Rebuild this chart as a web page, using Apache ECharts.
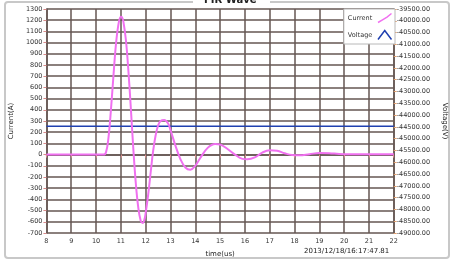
<!DOCTYPE html>
<html><head><meta charset="utf-8">
<script src="https://cdn.jsdelivr.net/npm/echarts@6/dist/echarts.min.js"></script>
<style>html,body{margin:0;padding:0;background:#fff}#c{width:456px;height:264px}</style>
</head><body><div id="c"></div>
<script>
var timeUs = [8, 9, 10, 10.3, 10.4, 10.5, 10.6, 10.7, 10.8, 10.9, 11.0, 11.05, 11.1, 11.2, 11.3, 11.4, 11.5, 11.6, 11.7, 11.8, 11.88, 11.95, 12.0, 12.1, 12.2, 12.3, 12.4, 12.5, 12.6, 12.75, 12.9, 13.0, 13.2, 13.4, 13.6, 13.8, 14.0, 14.2, 14.5, 14.8, 15.0, 15.3, 15.6, 15.9, 16.1, 16.4, 16.7, 17.0, 17.3, 17.6, 17.9, 18.2, 18.6, 19.0, 19.4, 19.8, 20.2, 21, 22];
var currentA = [0, 0, 0, 0, 20, 150, 400, 700, 980, 1160, 1230, 1225, 1190, 1030, 760, 420, 60, -250, -470, -590, -610, -580, -520, -360, -160, 30, 170, 260, 300, 310, 280, 220, 80, -40, -115, -135, -100, -30, 60, 95, 90, 50, 0, -38, -42, -25, 18, 38, 34, 12, -4, -6, 4, 14, 12, 6, 4, 4, 4];
var voltageTime = [8, 22];
var voltageV = [-44470, -44470];
var seriesNames = ['Current', 'Voltage'];
var timestamp = '2013/12/18/16:17:47.81';

function pairs(xs, ys) { return xs.map(function (x, i) { return [x, ys[i]]; }); }

var font = 'DejaVu Sans';
var gridColor = '#655652';
var tickColor = '#d98a8a';
var chart = echarts.init(document.getElementById('c'));
chart.setOption({
  animation: false,
  backgroundColor: '#fff',
  textStyle: { fontFamily: font },
  grid: { left: 42, right: 61, top: 9, bottom: 31 },
  legend: {
    right: 61, top: 9, orient: 'vertical', align: 'right',
    itemWidth: 15, itemHeight: 9, itemGap: 3,
    padding: [2, 1, 2, 4],
    backgroundColor: '#fff', borderColor: '#b8b8b8', borderWidth: 1,
    textStyle: { fontSize: 6.5, color: '#333', fontFamily: font },
    data: [
      { name: 'Current', icon: 'path://M0,10 L5,7 L10,4 L15,0', itemStyle: { color: 'none', borderColor: '#f070f0', borderWidth: 1.5 } },
      { name: 'Voltage', icon: 'path://M0,10 L7.5,0 L15,10', itemStyle: { color: 'none', borderColor: '#2040b0', borderWidth: 1.5 } }
    ]
  },
  xAxis: {
    type: 'value', min: 8, max: 22, interval: 1,
    name: 'time(us)', nameLocation: 'middle', nameGap: 18,
    nameTextStyle: { fontSize: 7, color: '#222' },
    axisLine: { show: true, lineStyle: { color: gridColor, width: 1.5 } },
    axisTick: { show: true, length: 3, lineStyle: { color: tickColor } },
    axisLabel: { fontSize: 6.5, color: '#333', margin: 5, formatter: function (v) { return String(v); } },
    splitLine: { show: true, lineStyle: { color: gridColor, width: 1.5 } }
  },
  yAxis: [{
    type: 'value', min: -700, max: 1300, interval: 100,
    name: 'Current(A)', nameLocation: 'middle', nameGap: 27,
    nameTextStyle: { fontSize: 7, color: '#222' },
    axisLine: { show: true, lineStyle: { color: gridColor, width: 1.5 } },
    axisTick: { show: true, length: 3, lineStyle: { color: tickColor } },
    axisLabel: { fontSize: 6.5, color: '#333', margin: 4, formatter: function (v) { return String(v); } },
    splitLine: { show: true, lineStyle: { color: gridColor, width: 1.5 } }
  }, {
    type: 'value', position: 'right', min: -49000, max: -39500, interval: 500,
    name: 'Voltage(V)', nameLocation: 'middle', nameGap: 44, nameRotate: -90,
    nameTextStyle: { fontSize: 7, color: '#222' },
    axisLine: { show: true, lineStyle: { color: gridColor, width: 1.5 } },
    axisTick: { show: true, length: 3, lineStyle: { color: '#e0a070' } },
    axisLabel: { fontSize: 6.5, color: '#333', margin: 3, formatter: function (v) { return v.toFixed(2); } },
    splitLine: { show: false }
  }],
  series: [{
    name: seriesNames[0], type: 'line', yAxisIndex: 0, smooth: 0.4,
    showSymbol: false, data: pairs(timeUs, currentA),
    lineStyle: { color: '#f070f0', width: 2 }, itemStyle: { color: '#f070f0' }, z: 3
  }, {
    name: seriesNames[1], type: 'line', yAxisIndex: 1,
    showSymbol: false, data: pairs(voltageTime, voltageV),
    lineStyle: { color: '#2040b0', width: 1.5 }, itemStyle: { color: '#2040b0' }, z: 2
  }],
  graphic: [
    { type: 'rect', shape: { x: 5, y: 2, width: 444, height: 256, r: 3 }, style: { fill: 'none', stroke: '#c8c8c8', lineWidth: 2 }, z: -10, silent: true },
    { type: 'rect', shape: { x: 193, y: 0, width: 77, height: 6 }, style: { fill: '#fff' }, z: -5, silent: true },
    { type: 'text', left: 204, top: -5, style: { text: 'FIR Wave', font: 'bold 10px ' + font, fill: '#222' }, z: 10 },
    { type: 'text', left: 304, top: 248, style: { text: timestamp, font: '7px ' + font, fill: '#222' }, z: 10 }
  ]
});
</script>
</body></html>
